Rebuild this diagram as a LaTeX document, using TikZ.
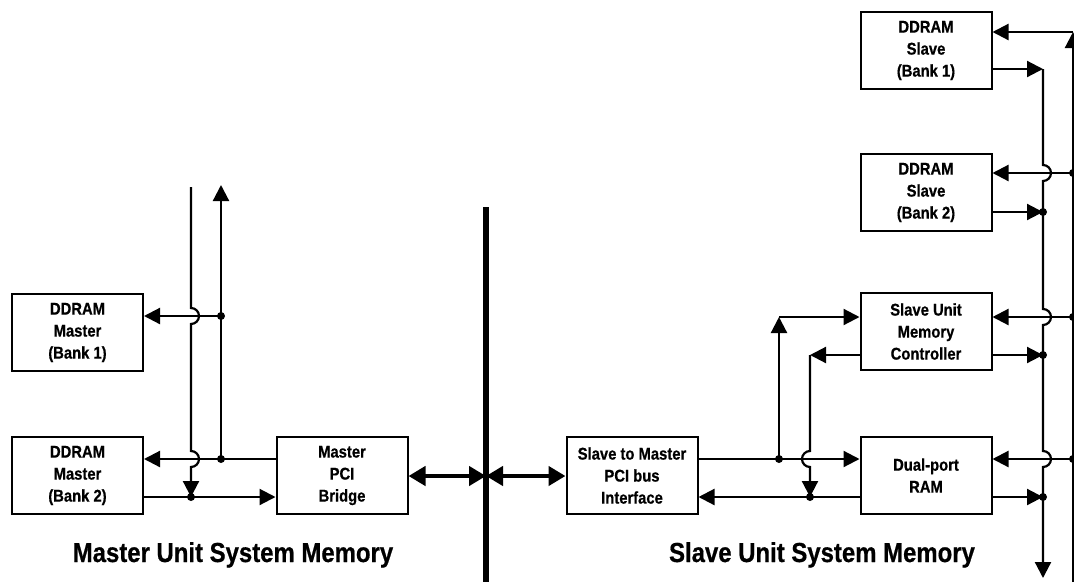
\documentclass[tikz,border=0pt]{standalone}
\usepackage{fontspec}
\newfontfamily\narrowsans{Liberation Sans}[FakeStretch=0.87, BoldFeatures={FakeBold=0.6}]
\usetikzlibrary{arrows.meta}
\begin{document}
\begin{tikzpicture}[x=1pt,y=-1pt,
  box/.style={draw, line width=2pt, minimum width=131pt, minimum height=77pt, align=center,
    font=\narrowsans\bfseries\fontsize{17}{22}\selectfont, inner sep=0pt},
  wire/.style={line width=2.2pt},
  arr/.style={wire, -{Triangle[length=16pt,width=16pt]}},
  dot/.style={circle, fill, inner sep=0pt, minimum size=8pt},
  bus/.style={line width=5.5pt},
  busarr/.style={line width=4.5pt, {Triangle[length=17pt,width=19pt]}-{Triangle[length=17pt,width=19pt]}},
  title/.style={font=\narrowsans\bfseries\fontsize{27.5}{33}\selectfont, anchor=base, inner sep=0pt}
]
\useasboundingbox (0,0) rectangle (1074,582);

% boxes
\node[box] (mb1) at (77.5,332.5) {DDRAM\\Master\\(Bank 1)};
\node[box] (mb2) at (77.5,475.5) {DDRAM\\Master\\(Bank 2)};
\node[box] (mpci) at (342,475.5) {Master\\PCI\\Bridge};
\node[box] (sif) at (632,475.5) {Slave to Master\\PCI bus\\Interface};
\node[box] (dpr) at (926,475.5) {Dual-port\\RAM};
\node[box] (smc) at (926,331.5) {Slave Unit\\Memory\\Controller};
\node[box] (sb1) at (926,50.5) {DDRAM\\Slave\\(Bank 1)};
\node[box] (sb2) at (926,192.5) {DDRAM\\Slave\\(Bank 2)};

% titles
\node[title] (mtitle) at (233,562) {Master Unit System Memory};
\node[title] (stitle) at (822,562) {Slave Unit System Memory};

% bus
\coordinate (bustop) at (486,207);
\coordinate (busbot) at (486,582);
\coordinate (busmid) at (486,476);
\draw[bus] (bustop) -- (busbot);
\draw[busarr] (mpci.east |- busmid) -- (busmid);
\draw[busarr] (busmid) -- (sif.west |- busmid);

% master side wires
\coordinate (Atop) at (191,187);
\coordinate (Btop) at (221,185);
\coordinate (B1) at (221,316);
\coordinate (B2) at (221,459);
\coordinate (A2) at (191,497);
\draw[arr] (B1) -- (mb1.east |- B1);
\draw[arr] (mpci.west |- B2) -- (mb2.east |- B2);
\draw[arr] (mb2.east |- A2) -- (mpci.west |- A2);
\draw[arr] (B2) -- (Btop);
\draw[arr] (Atop) -- ++(0,121) arc[start angle=90,end angle=-90,radius=8pt]
  -- ++(0,127) arc[start angle=90,end angle=-90,radius=8pt] -- (A2);
\node[dot] (dB1) at (B1) {};
\node[dot] (dB2) at (B2) {};
\node[dot] (dA2) at (A2) {};

% slave side wires
\coordinate (D1) at (779,459);
\coordinate (Dtop) at (779,317);
\coordinate (Ctop) at (810,355);
\coordinate (C2) at (810,497);
\draw[arr] (sif.east |- D1) -- (dpr.west |- D1);
\draw[arr] (dpr.west |- C2) -- (sif.east |- C2);
\draw[arr] (D1) -- (Dtop);
\draw[arr] (Dtop) -- (smc.west |- Dtop);
\draw[arr] (smc.west |- Ctop) -- (Ctop);
\draw[arr] (Ctop) -- ++(0,96) arc[start angle=90,end angle=270,radius=8pt] -- (C2);
\node[dot] (dD1) at (D1) {};
\node[dot] (dC2) at (C2) {};

% far right buses
\coordinate (Etop) at (1043,69);
\coordinate (Ebot) at (1043,578);
\coordinate (E1) at (1043,212);
\coordinate (E2) at (1043,355);
\coordinate (E3) at (1043,497);
\coordinate (Ftop) at (1073,32);
\coordinate (Fbot) at (1073,582);
\coordinate (F1) at (1073,173);
\coordinate (F2) at (1073,317);
\coordinate (F3) at (1073,459);
\draw[arr] (sb1.east |- Etop) -- (Etop);
\draw[arr] (Etop) -- ++(0,96) arc[start angle=90,end angle=-90,radius=8pt]
  -- ++(0,128) arc[start angle=90,end angle=-90,radius=8pt]
  -- ++(0,126) arc[start angle=90,end angle=-90,radius=8pt] -- (Ebot);
\draw[arr] (Fbot) -- (Ftop);
\draw[arr] (Ftop) -- (sb1.east |- Ftop);
\draw[arr] (F1) -- (sb2.east |- F1);
\draw[arr] (F2) -- (smc.east |- F2);
\draw[arr] (F3) -- (dpr.east |- F3);
\draw[arr] (sb2.east |- E1) -- (E1);
\draw[arr] (smc.east |- E2) -- (E2);
\draw[arr] (dpr.east |- E3) -- (E3);
\node[dot] (dE1) at (E1) {};
\node[dot] (dE2) at (E2) {};
\node[dot] (dE3) at (E3) {};
\node[dot] (dF1) at (F1) {};
\node[dot] (dF2) at (F2) {};
\node[dot] (dF3) at (F3) {};
\end{tikzpicture}
\end{document}
